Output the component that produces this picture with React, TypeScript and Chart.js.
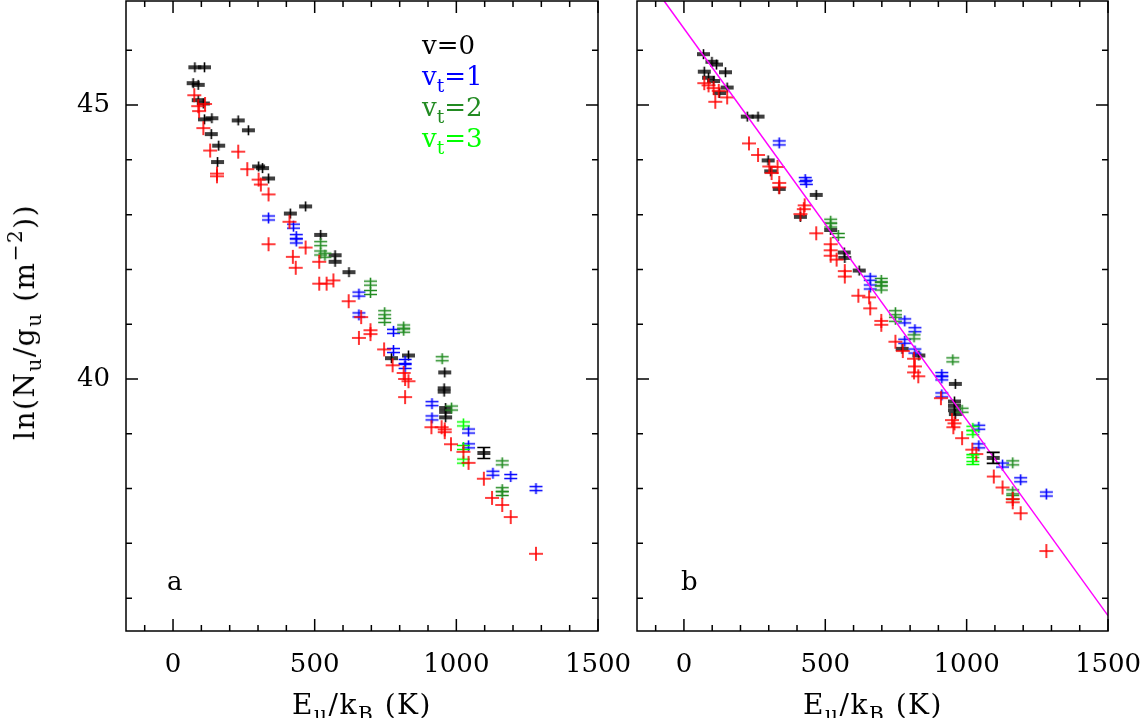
import React, { useEffect, useRef } from 'react';
import { Chart, registerables } from 'chart.js';

Chart.register(...registerables);

// ---------- axis ranges & ticks ----------
const X_MIN = -166;
const X_MAX = 1500;
const Y_MIN = 35.4;
const Y_MAX = 46.9;
const xMajorTicks = [0, 500, 1000, 1500];
const xMinorTicks = [-100, 100, 200, 300, 400, 600, 700, 800, 900, 1100, 1200, 1300, 1400];
const yMajorTicks = [40, 45];
const yMinorTicks = [36, 37, 38, 39, 41, 42, 43, 44, 46];

// ---------- panel a ----------
const aV0X = [77, 111, 71, 89, 89, 107, 111, 137, 135, 161, 157, 230, 266, 302, 316, 337, 414, 468, 521, 572, 572, 621, 771, 831, 959, 957, 957, 962, 962, 962, 1097];
const aV0Y = [45.69, 45.69, 45.40, 45.37, 45.09, 45.03, 44.74, 44.76, 44.47, 44.26, 43.96, 44.72, 44.54, 43.88, 43.85, 43.66, 43.02, 43.15, 42.63, 42.26, 42.14, 41.95, 40.38, 40.43, 40.12, 39.83, 39.77, 39.47, 39.40, 39.30, 38.65];
const aVt1X = [337, 425, 435, 435, 656, 656, 778, 778, 819, 819, 914, 914, 1043, 1043, 1129, 1192, 1281];
const aVt1Y = [42.94, 42.79, 42.60, 42.52, 41.55, 41.17, 40.87, 40.52, 40.32, 40.23, 39.55, 39.29, 39.05, 38.78, 38.28, 38.22, 38.00];
const aVt2X = [521, 521, 536, 697, 697, 747, 747, 814, 814, 950, 983, 1162, 1162, 1162];
const aVt2Y = [42.47, 42.30, 42.26, 41.75, 41.58, 41.21, 41.07, 40.95, 40.89, 40.37, 39.47, 38.47, 37.98, 37.91];
const aVt3X = [1025, 1025, 1025];
const aVt3Y = [39.18, 38.75, 38.50];
const aRedX = [75, 89, 92, 113, 107, 131, 155, 155, 230, 262, 302, 310, 337, 337, 411, 423, 433, 468, 516, 516, 542, 566, 620, 656, 664, 697, 697, 745, 775, 814, 819, 831, 819, 912, 948, 959, 959, 981, 1025, 1043, 1097, 1126, 1162, 1192, 1281];
const aRedY = [45.18, 44.98, 44.89, 45.02, 44.58, 44.17, 43.75, 43.70, 44.15, 43.83, 43.64, 43.55, 43.37, 42.46, 42.87, 42.23, 42.03, 42.40, 42.14, 41.74, 41.74, 41.80, 41.42, 40.75, 41.13, 40.89, 40.82, 40.54, 40.25, 40.11, 40.00, 39.96, 39.67, 39.12, 39.12, 39.03, 39.08, 38.81, 38.67, 38.47, 38.18, 37.83, 37.70, 37.48, 36.81];
const aErrX = [1097];
const aErrY = [38.65];
const aErrE = [0.1];
const aErrC = ['#000000'];

// ---------- panel b ----------
const bV0X = [69, 99, 115, 72, 147, 87, 105, 153, 126, 224, 262, 298, 307, 337, 412, 468, 519, 567, 569, 620, 772, 831, 960, 957, 957, 957, 960, 1094];
const bV0Y = [45.93, 45.79, 45.74, 45.61, 45.60, 45.50, 45.44, 45.32, 45.22, 44.79, 44.79, 43.99, 43.79, 43.47, 42.96, 43.36, 42.72, 42.31, 42.21, 41.98, 40.55, 40.43, 39.91, 39.59, 39.51, 39.43, 39.36, 38.56];
const bVt1X = [337, 429, 433, 659, 659, 781, 817, 781, 817, 912, 912, 912, 1043, 1043, 1127, 1191, 1282];
const bVt1Y = [44.31, 43.64, 43.59, 41.84, 41.68, 41.06, 40.90, 40.69, 40.51, 40.08, 40.02, 39.71, 39.12, 38.78, 38.43, 38.16, 37.90];
const bVt2X = [519, 519, 546, 698, 698, 698, 748, 748, 814, 951, 984, 1163, 1163, 1163];
const bVt2Y = [42.88, 42.81, 42.62, 41.80, 41.74, 41.66, 41.21, 41.09, 40.77, 40.35, 39.43, 38.47, 37.94, 37.84];
const bVt3X = [1022, 1022, 1022];
const bVt3Y = [39.10, 39.02, 38.53];
const bRedX = [72, 87, 105, 123, 153, 111, 230, 262, 302, 331, 310, 337, 337, 427, 424, 412, 468, 519, 519, 519, 540, 569, 569, 617, 655, 659, 698, 698, 748, 774, 814, 817, 814, 829, 909, 948, 957, 953, 984, 1020, 1034, 1096, 1127, 1163, 1163, 1191, 1282];
const bRedY = [45.40, 45.36, 45.31, 45.26, 45.14, 45.06, 44.30, 44.09, 43.88, 43.87, 43.76, 43.58, 43.50, 43.17, 43.10, 43.01, 42.66, 42.46, 42.35, 42.25, 42.18, 41.97, 41.87, 41.52, 41.49, 41.29, 41.06, 40.99, 40.68, 40.51, 40.37, 40.23, 40.12, 40.05, 39.65, 39.25, 39.19, 39.12, 38.92, 38.71, 38.63, 38.22, 38.02, 37.81, 37.75, 37.55, 36.86];
const bErrX = [1094, 1022];
const bErrY = [38.56, 38.53];
const bErrE = [0.1, 0.09];
const bErrC = ['#000000', '#00ff00'];
const fitX = [-70, 1500];
const fitY = [46.9, 35.68];

const FONT = "'DejaVu Serif', serif";
const C_BLACK = '#000000';
const C_BLUE = '#0000ff';
const C_GREEN = '#228b22';
const C_LIME = '#00ff00';
const C_RED = '#ff0000';
const C_FIT = '#ff00ff';

function makeMarker(color: string, w: number, h: number, gap: number) {
  const c = document.createElement('canvas');
  c.width = w + 2;
  c.height = h + 2;
  const ctx = c.getContext('2d')!;
  ctx.strokeStyle = color;
  ctx.lineWidth = 1.6;
  const cx = c.width / 2;
  const cy = c.height / 2;
  ctx.beginPath();
  ctx.moveTo(cx, 1);
  ctx.lineTo(cx, c.height - 1);
  if (gap > 0) {
    ctx.moveTo(1, cy - gap);
    ctx.lineTo(c.width - 1, cy - gap);
    ctx.moveTo(1, cy + gap);
    ctx.lineTo(c.width - 1, cy + gap);
  } else {
    ctx.moveTo(1, cy);
    ctx.lineTo(c.width - 1, cy);
  }
  ctx.stroke();
  return c;
}

const frameTicksPlugin = {
  id: 'frameTicks',
  afterDatasetsDraw(chart: any) {
    const { ctx, chartArea: a, scales } = chart;
    const xs = scales.x;
    const ys = scales.y;
    ctx.save();
    ctx.strokeStyle = '#000';
    ctx.lineWidth = 1.5;
    ctx.strokeRect(a.left, a.top, a.right - a.left, a.bottom - a.top);
    ctx.beginPath();
    const xt = (vals: number[], len: number) => {
      vals.forEach((v) => {
        const p = xs.getPixelForValue(v);
        ctx.moveTo(p, a.bottom);
        ctx.lineTo(p, a.bottom - len);
        ctx.moveTo(p, a.top);
        ctx.lineTo(p, a.top + len);
      });
    };
    const yt = (vals: number[], len: number) => {
      vals.forEach((v) => {
        const p = ys.getPixelForValue(v);
        ctx.moveTo(a.left, p);
        ctx.lineTo(a.left + len, p);
        ctx.moveTo(a.right, p);
        ctx.lineTo(a.right - len, p);
      });
    };
    xt(xMajorTicks, 12);
    xt(xMinorTicks, 6);
    yt(yMajorTicks, 12);
    yt(yMinorTicks, 6);
    ctx.stroke();
    ctx.restore();
  },
};

const errBarsPlugin = {
  id: 'errBars',
  afterDatasetsDraw(chart: any, _args: any, opts: any) {
    if (!opts || !opts.x) return;
    const { ctx, scales } = chart;
    ctx.save();
    ctx.lineWidth = 1.6;
    for (let i = 0; i < opts.x.length; i++) {
      const px = scales.x.getPixelForValue(opts.x[i]);
      const y1 = scales.y.getPixelForValue(opts.y[i] - opts.e[i]);
      const y2 = scales.y.getPixelForValue(opts.y[i] + opts.e[i]);
      ctx.strokeStyle = opts.c[i];
      ctx.beginPath();
      ctx.moveTo(px, y1);
      ctx.lineTo(px, y2);
      ctx.moveTo(px - 6.5, y1);
      ctx.lineTo(px + 6.5, y1);
      ctx.moveTo(px - 6.5, y2);
      ctx.lineTo(px + 6.5, y2);
      ctx.stroke();
    }
    ctx.restore();
  },
};

function pts(xs: number[], ys: number[]) {
  return xs.map((x, i) => ({ x, y: ys[i] }));
}

function series(label: string, xs: number[], ys: number[], color: string, marker: any) {
  return {
    label,
    data: pts(xs, ys),
    pointStyle: marker,
    pointRadius: 7,
    borderColor: color,
    backgroundColor: color,
    showLine: false,
  };
}

function makeConfig(datasets: any[], showYLabels: boolean, padRight: number, yWidth: number, errBars: any) {
  const zeroPad = (s: any) => {
    s.paddingLeft = 0;
    s.paddingRight = 0;
    s.paddingTop = 0;
    s.paddingBottom = 0;
  };
  return {
    type: 'scatter' as const,
    data: { datasets },
    options: {
      responsive: false,
      animation: false as const,
      events: [],
      layout: { autoPadding: false, padding: { top: 1, right: padRight, left: 0, bottom: 0 } },
      plugins: {
        legend: { display: false },
        tooltip: { enabled: false },
        errBars,
      },
      scales: {
        x: {
          type: 'linear' as const,
          position: 'bottom' as const,
          min: X_MIN,
          max: X_MAX,
          grid: { display: false, drawTicks: false },
          border: { display: false },
          ticks: {
            color: '#000',
            font: { family: FONT, size: 26 },
            padding: 19,
            maxRotation: 0,
            minRotation: 0,
            autoSkip: false,
            callback: (v: any) => String(v),
          },
          afterBuildTicks: (s: any) => {
            s.ticks = xMajorTicks.map((v) => ({ value: v }));
          },
          afterFit: (s: any) => {
            s.height = 87;
            zeroPad(s);
          },
        },
        y: {
          type: 'linear' as const,
          position: 'left' as const,
          min: Y_MIN,
          max: Y_MAX,
          grid: { display: false, drawTicks: false },
          border: { display: false },
          ticks: {
            display: showYLabels,
            color: '#000',
            font: { family: FONT, size: 26 },
            padding: 16,
            autoSkip: false,
            callback: (v: any) => String(v),
          },
          afterBuildTicks: (s: any) => {
            s.ticks = yMajorTicks.map((v) => ({ value: v }));
          },
          afterFit: (s: any) => {
            s.width = yWidth;
            zeroPad(s);
          },
        },
      },
    },
    plugins: [frameTicksPlugin, errBarsPlugin],
  };
}

const subS: React.CSSProperties = { fontSize: '0.72em', verticalAlign: '-0.35em', lineHeight: 0 };
const supS: React.CSSProperties = { fontSize: '0.72em', verticalAlign: '0.6em', lineHeight: 0 };

export default function App() {
  const leftRef = useRef<HTMLCanvasElement>(null);
  const rightRef = useRef<HTMLCanvasElement>(null);

  useEffect(() => {
    const mk = {
      black: makeMarker(C_BLACK, 13, 10, 1),
      blue: makeMarker(C_BLUE, 13, 11, 2),
      green: makeMarker(C_GREEN, 13, 11, 2),
      lime: makeMarker(C_LIME, 13, 11, 2),
      red: makeMarker(C_RED, 14, 14, 0),
    };
    const leftSets = [
      series('red', aRedX, aRedY, C_RED, mk.red),
      series('vt=3', aVt3X, aVt3Y, C_LIME, mk.lime),
      series('vt=2', aVt2X, aVt2Y, C_GREEN, mk.green),
      series('vt=1', aVt1X, aVt1Y, C_BLUE, mk.blue),
      series('v=0', aV0X, aV0Y, C_BLACK, mk.black),
    ];
    const rightSets = [
      {
        label: 'fit',
        data: pts(fitX, fitY),
        showLine: true,
        borderColor: C_FIT,
        borderWidth: 1.5,
        pointRadius: 0,
        clip: 0,
      },
      series('red', bRedX, bRedY, C_RED, mk.red),
      series('vt=3', bVt3X, bVt3Y, C_LIME, mk.lime),
      series('vt=2', bVt2X, bVt2Y, C_GREEN, mk.green),
      series('vt=1', bVt1X, bVt1Y, C_BLUE, mk.blue),
      series('v=0', bV0X, bV0Y, C_BLACK, mk.black),
    ];
    const c1 = new Chart(
      leftRef.current!,
      makeConfig(leftSets, true, 62, 126, { x: aErrX, y: aErrY, e: aErrE, c: aErrC }) as any
    );
    const c2 = new Chart(
      rightRef.current!,
      makeConfig(rightSets, false, 34, 37, { x: bErrX, y: bErrY, e: bErrE, c: bErrC }) as any
    );
    return () => {
      c1.destroy();
      c2.destroy();
    };
  }, []);

  const txt: React.CSSProperties = {
    position: 'absolute',
    fontFamily: FONT,
    lineHeight: 1,
    whiteSpace: 'nowrap',
    color: '#000',
  };

  return (
    <div
      style={{
        position: 'absolute',
        left: 0,
        top: 0,
        width: 1142,
        height: 718,
        background: '#fff',
        overflow: 'hidden',
      }}
    >
      <canvas ref={leftRef} width={660} height={718} style={{ position: 'absolute', left: 0, top: 0 }} />
      <canvas ref={rightRef} width={542} height={718} style={{ position: 'absolute', left: 600, top: 0 }} />

      {/* y title */}
      <div
        style={{
          ...txt,
          fontSize: 28,
          letterSpacing: '1.5px',
          left: 25,
          top: 322,
          transform: 'translate(-50%, -50%) rotate(-90deg)',
        }}
      >
        ln(N<span style={subS}>u</span>/g<span style={subS}>u</span> (m<span style={supS}>−2</span>))
      </div>

      {/* x titles */}
      <div style={{ ...txt, fontSize: 28, letterSpacing: '1.5px', left: 362, top: 691, transform: 'translateX(-50%)' }}>
        E<span style={subS}>u</span>/k<span style={subS}>B</span> (K)
      </div>
      <div style={{ ...txt, fontSize: 28, letterSpacing: '1.5px', left: 873, top: 691, transform: 'translateX(-50%)' }}>
        E<span style={subS}>u</span>/k<span style={subS}>B</span> (K)
      </div>

      {/* legend */}
      <div style={{ ...txt, fontSize: 26, left: 422, top: 32, color: C_BLACK }}>v=0</div>
      <div style={{ ...txt, fontSize: 26, left: 422, top: 63, color: C_BLUE }}>
        v<span style={subS}>t</span>=1
      </div>
      <div style={{ ...txt, fontSize: 26, left: 422, top: 94, color: C_GREEN }}>
        v<span style={subS}>t</span>=2
      </div>
      <div style={{ ...txt, fontSize: 26, left: 422, top: 125, color: C_LIME }}>
        v<span style={subS}>t</span>=3
      </div>

      {/* panel labels */}
      <div style={{ ...txt, fontSize: 26, left: 167, top: 568 }}>a</div>
      <div style={{ ...txt, fontSize: 26, left: 681, top: 568 }}>b</div>
    </div>
  );
}
